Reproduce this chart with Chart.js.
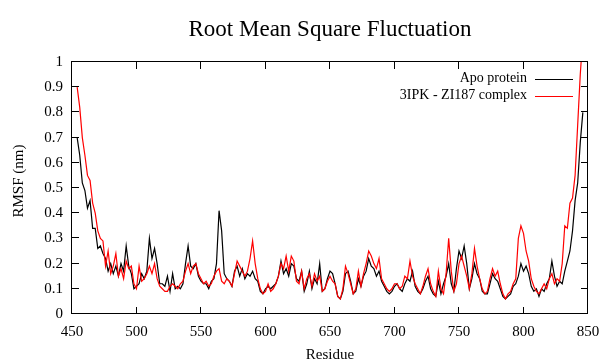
<!DOCTYPE html>
<html>
<head>
<meta charset="utf-8">
<script src="https://cdn.jsdelivr.net/npm/chart.js@4.4.1/dist/chart.umd.min.js"></script>
<style>
  html, body { margin: 0; padding: 0; background: #fff; }
  #wrap { width: 602px; height: 360px; }
</style>
</head>
<body>
<div id="wrap"><canvas id="rmsf-chart" width="602" height="360"></canvas></div>
<script>
// RMSF per residue, every second residue from 454 to 846
const firstResidue = 454;
const residueStep = 2;

const apoProtein = [
    0.70,0.63,0.52,0.49,0.42,0.45,0.34,0.34,0.26,0.27,
    0.24,0.22,0.17,0.20,0.16,0.19,0.15,0.20,0.17,0.27,
    0.19,0.16,0.10,0.11,0.12,0.16,0.14,0.17,0.30,0.22,
    0.26,0.20,0.12,0.12,0.11,0.15,0.09,0.16,0.10,0.11,
    0.10,0.12,0.20,0.27,0.19,0.18,
    0.20,0.15,0.13,0.12,0.12,0.10,0.13,0.14,0.20,0.41,
    0.33,0.16,0.14,0.13,0.11,0.17,0.19,0.15,0.18,0.14,
    0.16,0.15,0.17,0.14,0.13,0.09,0.08,0.10,0.11,0.10,
    0.11,0.12,0.15,0.21,0.16,0.18,0.15,0.20,0.19,0.14,
    0.13,0.17,0.09,0.12,0.17,0.10,0.14,0.12,0.20,0.09,
    0.10,0.14,0.17,0.16,0.12,0.07,0.06,0.09,0.16,0.17,
    0.13,0.08,0.09,0.14,0.11,0.15,0.17,0.22,0.19,0.18,
    0.15,0.17,0.13,0.11,0.09,0.08,0.09,0.11,0.12,0.10,
    0.09,0.12,0.14,0.13,0.17,0.11,0.09,0.08,0.10,0.13,
    0.15,0.10,0.08,0.07,0.13,0.08,0.12,0.15,0.20,0.12,
    0.09,0.18,0.25,0.22,0.27,0.20,0.10,0.14,0.20,0.16,
    0.14,0.09,0.08,0.08,0.12,0.16,0.14,0.13,0.10,0.07,
    0.06,0.07,0.08,0.11,0.12,0.15,0.20,0.17,0.19,0.16,
    0.11,0.09,0.10,0.07,0.10,0.09,0.12,0.14,0.21,0.15,
    0.11,0.13,0.12,0.17,0.21,0.25,0.33,0.45,0.52,0.68,
    0.80
];

const complexZI187 = [
    0.90,0.82,0.70,0.63,0.55,0.53,0.44,0.40,0.33,0.30,
    0.29,0.19,0.25,0.16,0.19,0.24,0.15,0.18,0.14,0.21,
    0.18,0.19,0.12,0.10,0.19,0.13,0.14,0.16,0.19,0.16,
    0.20,0.14,0.11,0.10,0.09,0.09,0.11,0.12,0.11,0.10,
    0.12,0.13,0.17,0.20,0.16,0.19,
    0.20,0.16,0.14,0.12,0.13,0.11,0.12,0.15,0.17,0.18,
    0.13,0.12,0.14,0.13,0.11,0.16,0.21,0.19,0.17,0.15,
    0.17,0.22,0.29,0.20,0.14,0.10,0.08,0.09,0.12,0.09,
    0.10,0.12,0.15,0.20,0.18,0.23,0.17,0.23,0.21,0.13,
    0.12,0.17,0.10,0.14,0.16,0.11,0.16,0.13,0.15,0.09,
    0.10,0.13,0.15,0.13,0.12,0.07,0.06,0.10,0.19,0.16,
    0.12,0.08,0.10,0.17,0.11,0.16,0.20,0.25,0.23,0.20,
    0.18,0.22,0.14,0.12,0.10,0.09,0.10,0.12,0.12,0.10,
    0.11,0.15,0.14,0.21,0.15,0.12,0.10,0.08,0.11,0.15,
    0.18,0.12,0.09,0.07,0.17,0.10,0.08,0.16,0.30,0.17,
    0.09,0.12,0.20,0.23,0.19,0.15,0.10,0.16,0.26,0.19,
    0.14,0.10,0.08,0.09,0.14,0.18,0.15,0.17,0.12,0.08,
    0.06,0.08,0.09,0.12,0.14,0.30,0.35,0.32,0.25,0.21,
    0.14,0.11,0.09,0.08,0.10,0.12,0.10,0.14,0.16,0.12,
    0.14,0.13,0.20,0.35,0.34,0.44,0.46,0.55,0.75,0.95,
    1.10
];

const seriesLabels = ['Apo protein', '3IPK - ZI187 complex'];
const seriesColors = ['#000000', '#ff0000'];
const chartTitle = 'Root Mean Square Fluctuation';
const xAxisTitle = 'Residue';
const yAxisTitle = 'RMSF (nm)';

const serif = '"Liberation Serif", "DejaVu Serif", serif';

function toPoints(values) {
    return values.map((v, i) => ({ x: firstResidue + i * residueStep, y: v }));
}

// gnuplot-like box with inward ticks on all four sides
const frameTicks = {
    id: 'frameTicks',
    beforeDatasetsDraw(chart) {
        const { ctx, chartArea: a, scales: { x, y } } = chart;
        const len = 7;
        ctx.save();
        ctx.strokeStyle = '#000';
        ctx.lineWidth = 1;
        ctx.beginPath();
        x.ticks.forEach(t => {
            const px = Math.round(x.getPixelForValue(t.value)) - 0.5;
            ctx.moveTo(px, a.bottom); ctx.lineTo(px, a.bottom - len);
            ctx.moveTo(px, a.top); ctx.lineTo(px, a.top + len);
        });
        y.ticks.forEach(t => {
            const py = Math.round(y.getPixelForValue(t.value)) - 0.5;
            ctx.moveTo(a.left, py); ctx.lineTo(a.left + len, py);
            ctx.moveTo(a.right, py); ctx.lineTo(a.right - len, py);
        });
        ctx.stroke();
        ctx.strokeRect(a.left - 0.5, a.top - 0.5, a.width, a.height);
        ctx.restore();
    },
    afterDraw(chart) {
        const { ctx, chartArea: a } = chart;
        ctx.save();
        // legend: text right aligned, line sample on the right
        ctx.font = '14px ' + serif;
        ctx.textAlign = 'right';
        ctx.textBaseline = 'middle';
        chart.data.datasets.forEach((ds, i) => {
            const yy = a.top + 16.5 + i * 17.3;
            ctx.fillStyle = '#000';
            ctx.fillText(ds.label, a.right - 61, yy);
            ctx.strokeStyle = ds.borderColor;
            ctx.lineWidth = 1;
            ctx.beginPath();
            ctx.moveTo(a.right - 53, Math.round(yy) + 0.5);
            ctx.lineTo(a.right - 15, Math.round(yy) + 0.5);
            ctx.stroke();
        });
        // y axis title
        ctx.translate(19.5, 181);
        ctx.rotate(-Math.PI / 2);
        ctx.textAlign = 'center';
        ctx.font = '15px ' + serif;
        ctx.fillStyle = '#000';
        ctx.fillText(yAxisTitle, 0, 0);
        ctx.restore();
    }
};

Chart.defaults.color = '#000';
Chart.defaults.font.family = serif;

const ctx = document.getElementById('rmsf-chart').getContext('2d');
new Chart(ctx, {
    type: 'line',
    data: {
        datasets: [
            {
                label: seriesLabels[0],
                data: toPoints(apoProtein),
                borderColor: seriesColors[0],
                borderWidth: 1.2,
                pointRadius: 0,
                order: 1
            },
            {
                label: seriesLabels[1],
                data: toPoints(complexZI187),
                borderColor: seriesColors[1],
                borderWidth: 1.2,
                pointRadius: 0,
                order: 0
            }
        ]
    },
    options: {
        responsive: false,
        animation: false,
        layout: { padding: { left: 0, right: 14, top: 0, bottom: 0 } },
        plugins: {
            legend: { display: false },
            tooltip: { enabled: false },
            title: {
                display: true,
                text: chartTitle,
                fullSize: false,
                font: { size: 23, weight: 'normal', family: serif },
                padding: { top: 16, bottom: 18.4 }
            }
        },
        scales: {
            x: {
                type: 'linear',
                min: 450,
                max: 850,
                grid: { display: false, drawTicks: false },
                border: { display: false },
                ticks: { stepSize: 50, padding: 9, font: { size: 15 }, maxRotation: 0 },
                title: { display: true, text: xAxisTitle, font: { size: 15 }, padding: { top: 0, bottom: -4 } },
                afterFit(scale) {
                    scale.height = 46;
                    scale.paddingLeft = 0;
                    scale.paddingRight = 0;
                }
            },
            y: {
                min: 0,
                max: 1,
                grid: { display: false, drawTicks: false },
                border: { display: false },
                ticks: {
                    stepSize: 0.1,
                    padding: 9,
                    font: { size: 15 },
                    callback: v => String(Number(v.toFixed(1)))
                },
                afterFit(scale) {
                    scale.width = 72;
                    scale.paddingTop = 0;
                    scale.paddingBottom = 0;
                }
            }
        }
    },
    plugins: [frameTicks]
});
</script>
</body>
</html>
